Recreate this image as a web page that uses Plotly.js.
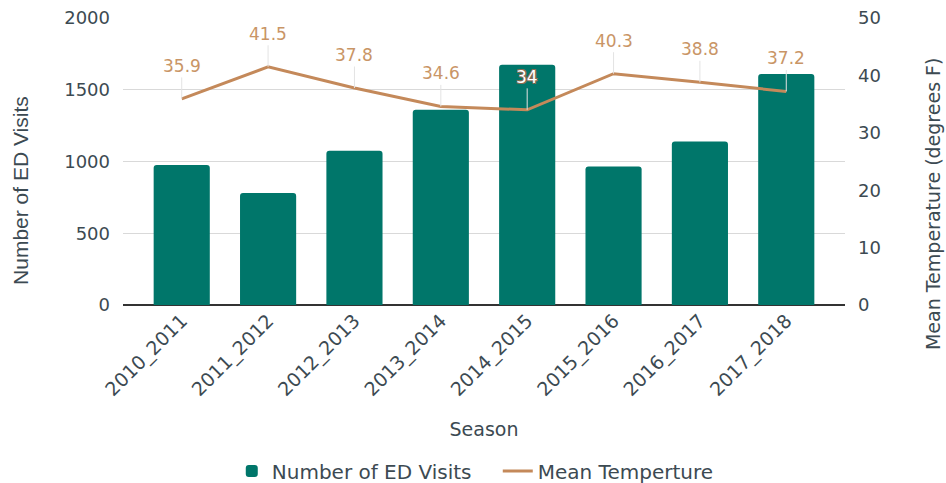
<!DOCTYPE html>
<html>
<head>
<meta charset="utf-8">
<script src="https://cdn.plot.ly/plotly-3.0.1.min.js"></script>
<style>
  html, body { margin: 0; padding: 0; background: #fff; }
  #chart { width: 946px; height: 483px; }
</style>
</head>
<body>
<div id="chart"></div>
<script>
const seasons = ["2010_2011", "2011_2012", "2012_2013", "2013_2014", "2014_2015", "2015_2016", "2016_2017", "2017_2018"];
const edVisits = [975, 780, 1075, 1360, 1675, 965, 1140, 1610];
const meanTemp = [35.9, 41.5, 37.8, 34.6, 34, 40.3, 38.8, 37.2];

const colors = { bar: "#00766a", line: "#c4895a", label: "#c99566", ink: "#3c4a52", grid: "#d9d9d9", leader: "#e3e3e3" };
const font = "DejaVu Sans, Verdana, sans-serif";

// label sits ~6 deg above its point; go white when the bar covers it
const labelOffset = 5.9;
const valueLabels = seasons.map((s, i) => {
  const covered = edVisits[i] / 40 > meanTemp[i] + labelOffset;
  return {
    x: s, y: meanTemp[i], xref: "x", yref: "y2",
    text: String(meanTemp[i]),
    showarrow: true, arrowhead: 0, arrowwidth: 1, arrowcolor: colors.leader,
    ax: 0, ay: -33, standoff: 0,
    font: covered
      ? { family: font, size: 17, color: "#ffffff", shadow: "1px 1px 0 #8a6a50, -1px -1px 0 #8a6a50, 1px -1px 0 #8a6a50, -1px 1px 0 #8a6a50" }
      : { family: font, size: 17, color: colors.label }
  };
});

// axis titles sit a bit below the plot middle in the original, so place them by hand
const axisTitles = [
  { text: "Number of ED Visits", x: -0.143, y: 0.40, textangle: -90,
    font: { family: "Liberation Sans Narrow, Arial Narrow, sans-serif", size: 21, color: colors.ink } },
  { text: "Mean Temperature (degrees F)", x: 1.122, y: 0.352, textangle: -90,
    font: { family: font, size: 19, color: colors.ink } }
].map(a => ({ ...a, xref: "paper", yref: "paper", showarrow: false, xanchor: "center", yanchor: "middle" }));

const traces = [
  {
    x: seasons, y: edVisits, type: "bar", name: "Number of ED Visits",
    marker: { color: colors.bar, cornerradius: 3 }, width: 0.65
  },
  {
    x: seasons, y: meanTemp, type: "scatter", mode: "lines", name: "Mean Temperture",
    yaxis: "y2", line: { color: colors.line, width: 3 }
  }
];

const layout = {
  width: 946, height: 483,
  margin: { l: 123, r: 101, t: 18, b: 178 },
  paper_bgcolor: "#ffffff", plot_bgcolor: "#ffffff",
  font: { family: font, color: colors.ink, size: 18 },
  showlegend: true,
  legend: {
    orientation: "h", x: 0.245, xanchor: "left", xref: "container",
    y: 0.025, yanchor: "middle", yref: "container",
    font: { size: 20 }, itemwidth: 30, entrywidth: 221, traceorder: "normal"
  },
  xaxis: {
    range: [-0.68, 7.68], tickangle: -45, tickfont: { size: 19 }, automargin: false,
    title: { text: "Season", font: { size: 19 }, standoff: 22 },
    showgrid: false, zeroline: false, ticks: ""
  },
  yaxis: {
    range: [0, 2000], dtick: 500, gridcolor: colors.grid, zeroline: true, zerolinecolor: "#333",
    zerolinewidth: 1.5, tickfont: { size: 18 }, ticks: "", automargin: false, ticklabelstandoff: 12
  },
  yaxis2: {
    range: [0, 50], dtick: 10, overlaying: "y", side: "right", showgrid: false, zeroline: false,
    tickfont: { size: 18 }, automargin: false, ticklabelstandoff: 12
  },
  annotations: [...valueLabels, ...axisTitles]
};

Plotly.newPlot("chart", traces, layout, { displayModeBar: false, responsive: false });
</script>
</body>
</html>
